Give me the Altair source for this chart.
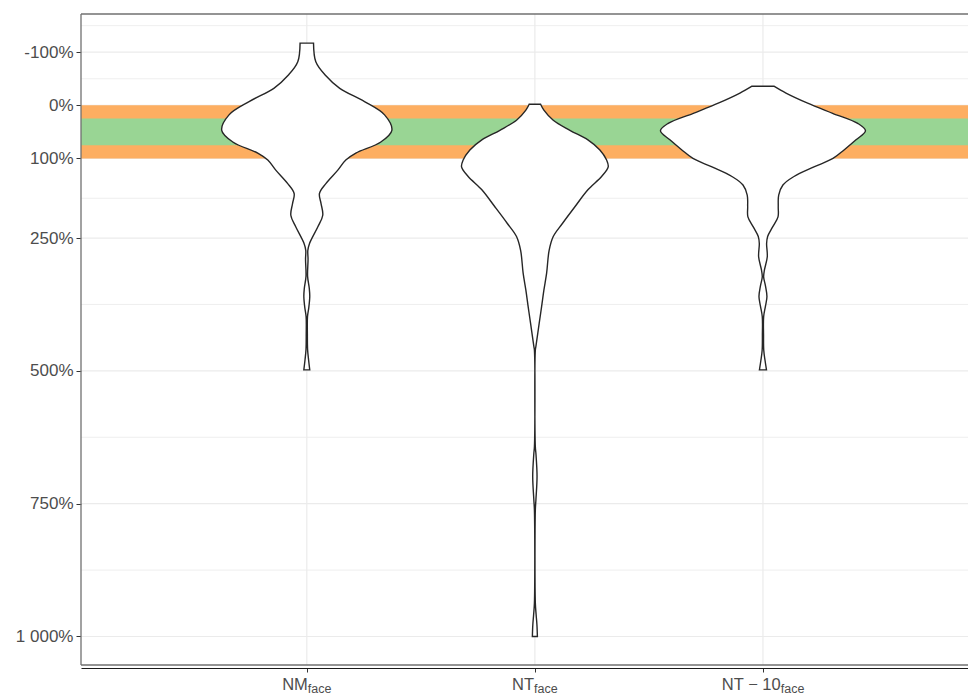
import altair as alt
import pandas as pd

# ---------------- data ----------------
categories = ["NM", "NT", "NT − 10"]
subscript = "face"

# violin outlines: value (%) and full violin width (category units)
nm_values = [-117, -82, -57, -32, -7, 18, 47, 69, 90, 103, 122, 147, 166, 185, 207, 229,
             260, 273, 290, 322, 345, 360, 380, 398, 430, 460, 480, 498]
nm_widths = [0.059, 0.079, 0.161, 0.289, 0.506, 0.682, 0.746, 0.649, 0.430, 0.342, 0.272,
             0.169, 0.111, 0.125, 0.140, 0.096, 0.024, 0.009, 0.011, 0.007, 0.022, 0.026,
             0.018, 0.006, 0.005, 0.007, 0.016, 0.026]

nt_values = [-2, 9, 28, 47, 65, 84, 103, 116, 134, 159, 191, 222, 247, 273, 316, 348, 379,
             410, 454, 461, 643, 655, 699, 743, 762, 937, 959, 978, 1000]
nt_widths = [0.050, 0.079, 0.161, 0.307, 0.465, 0.570, 0.629, 0.643, 0.585, 0.465, 0.351,
             0.243, 0.161, 0.125, 0.103, 0.079, 0.059, 0.038, 0.009, 0.004, 0.004, 0.009,
             0.019, 0.009, 0.004, 0.004, 0.011, 0.018, 0.022]

nt10_values = [-36, -23, -4, 15, 34, 48, 65, 84, 100, 116, 134, 150, 169, 191, 210, 229, 247,
               260, 285, 310, 323, 340, 360, 378, 398, 432, 461, 480, 498]
nt10_widths = [0.096, 0.202, 0.392, 0.611, 0.831, 0.899, 0.816, 0.711, 0.614, 0.447, 0.272,
               0.175, 0.138, 0.134, 0.132, 0.085, 0.041, 0.032, 0.038, 0.013, 0.006, 0.022,
               0.035, 0.022, 0.006, 0.005, 0.007, 0.018, 0.031]

band_names = ["outer", "inner"]
band_lo = [0, 25]
band_hi = [100, 75]

y_ticks = [-100, 0, 100, 250, 500, 750, 1000]
y_minor = [-150, -50, 50, 175, 375, 625, 875]

# ---------------- layout ----------------
W, H = 887, 651
X_DOM = [0.01, 3.899]
Y_DOM = [-171.9, 1053.7]
UNIT = W / (X_DOM[1] - X_DOM[0])
FONT = "Liberation Sans"
MAIN_FS, SUB_FS = 16.5, 12.5

xs = alt.Scale(domain=X_DOM, nice=False, zero=False)
ys = alt.Scale(domain=Y_DOM, reverse=True, nice=False, zero=False)

xaxis = alt.Axis(values=[1, 2, 3], labels=False, title=None, grid=False,
                 domainColor="#1a1a1a", domainWidth=1.2, offset=3,
                 tickColor="#333333", tickSize=4, tickWidth=1)
yaxis = alt.Axis(values=y_ticks, title=None, grid=False, domain=False,
                 labelExpr="datum.value == 1000 ? '1 000%' : datum.value + '%'",
                 labelFont=FONT, labelFontSize=17, labelColor="#4D4D4D",
                 labelPadding=3, tickColor="#333333", tickSize=5, tickWidth=1)

positions = [i + 1 for i in range(len(categories))]

# violins
rows = []
for name, pos, vals, wids in [(categories[0], positions[0], nm_values, nm_widths),
                              (categories[1], positions[1], nt_values, nt_widths),
                              (categories[2], positions[2], nt10_values, nt10_widths)]:
    for v, w in zip(vals, wids):
        rows.append({"group": name, "pos": pos, "value": v, "width": w})
vdf = pd.DataFrame(rows).sort_values(["group", "value"])

# label text widths (Arial/Liberation metrics, per 1000 em)
AW = {"N": 722, "M": 833, "T": 611, " ": 278, "−": 584, "1": 556, "0": 556,
      "f": 278, "a": 556, "c": 500, "e": 556}
def text_w(s, fs):
    return sum(AW.get(ch, 556) for ch in s) * fs / 1000.0

lab = pd.DataFrame({"main": categories, "pos": positions})
lab["sub"] = subscript
lab["anchor"] = [p + (text_w(m, MAIN_FS) - text_w(subscript, SUB_FS)) / 2 / UNIT
                 for m, p in zip(categories, positions)]

one = pd.DataFrame({"a": [0]})

# ---------------- layers ----------------
grid_major = alt.Chart(pd.DataFrame({"v": y_ticks})).mark_rule(
    color="#EBEBEB", strokeWidth=1.2).encode(y=alt.Y("v:Q", scale=ys, axis=yaxis))
grid_minor = alt.Chart(pd.DataFrame({"v": y_minor})).mark_rule(
    color="#EBEBEB", strokeWidth=0.8).encode(y=alt.Y("v:Q", scale=ys, axis=yaxis))
grid_x = alt.Chart(pd.DataFrame({"p": positions})).mark_rule(
    color="#EBEBEB", strokeWidth=1.2).encode(x=alt.X("p:Q", scale=xs, axis=xaxis))

bands = alt.Chart(pd.DataFrame({"band": band_names, "lo": band_lo, "hi": band_hi})).mark_rect().encode(
    y=alt.Y("lo:Q", scale=ys, axis=yaxis), y2="hi:Q",
    x=alt.value(0), x2=alt.value(W),
    color=alt.Color("band:N", scale=alt.Scale(domain=band_names, range=["#FDAE61", "#99D594"]),
                    legend=None))

violins = alt.Chart(vdf).transform_calculate(
    lo="datum.pos - datum.width / 2", hi="datum.pos + datum.width / 2"
).mark_area(orient="horizontal", interpolate="catmull-rom", fill="white",
            stroke="#262626", strokeWidth=1.4).encode(
    y=alt.Y("value:Q", scale=ys, axis=yaxis),
    x=alt.X("lo:Q", scale=xs, axis=xaxis), x2="hi:Q",
    detail="group:N")

border_top = alt.Chart(one).mark_rule(color="#707070", strokeWidth=1.3).encode(y=alt.value(0))
border_left = alt.Chart(one).mark_rule(color="#707070", strokeWidth=1.3).encode(x=alt.value(0))
border_bot = alt.Chart(one).mark_rule(color="#707070", strokeWidth=1.3).encode(y=alt.value(H))

lab_main = alt.Chart(lab).mark_text(align="right", baseline="alphabetic", font=FONT,
                                    fontSize=MAIN_FS, color="#4D4D4D").encode(
    x=alt.X("anchor:Q", scale=xs, axis=xaxis), y=alt.value(H + 25), text="main:N")
lab_sub = alt.Chart(lab).mark_text(align="left", baseline="alphabetic", font=FONT,
                                   fontSize=SUB_FS, color="#4D4D4D").encode(
    x=alt.X("anchor:Q", scale=xs, axis=xaxis), y=alt.value(H + 28), text="sub:N")

chart = alt.layer(grid_minor, grid_major, grid_x, bands, violins,
                  border_top, border_left, border_bot, lab_main, lab_sub).properties(
    width=W, height=H,
    autosize=alt.AutoSizeParams(type="none"),
    padding={"left": 73, "top": 6, "right": 0, "bottom": 31},
).configure_view(stroke=None)

chart.save("out.html", embed_options={"renderer": "svg", "actions": False})
